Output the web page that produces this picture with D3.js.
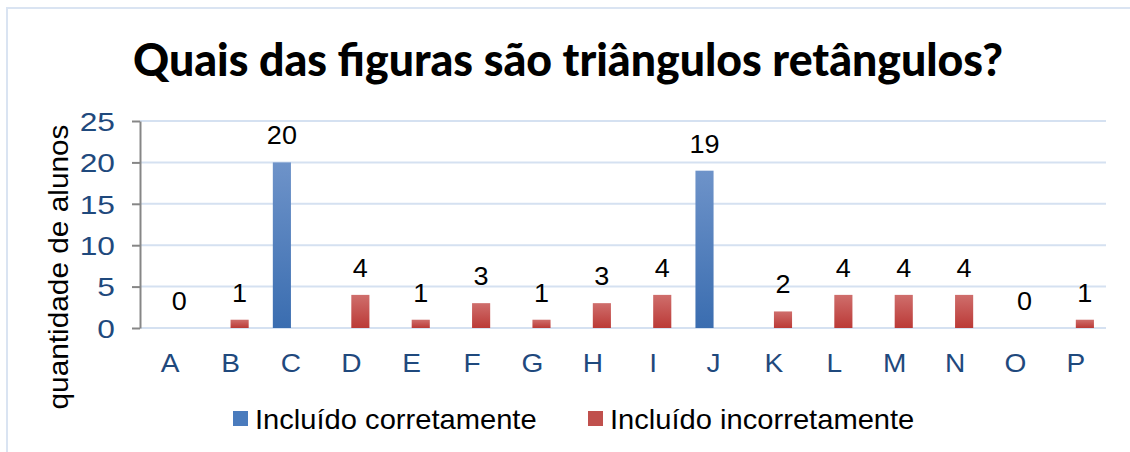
<!DOCTYPE html>
<html><head><meta charset="utf-8">
<script src="https://cdn.jsdelivr.net/npm/d3@7"></script>
<style>body{margin:0;background:#fff;overflow:hidden}</style>
</head><body><svg id="c" width="1130" height="452"></svg>
<script>
const categories = ["A","B","C","D","E","F","G","H","I","J","K","L","M","N","O","P"];
const correct =   [null,null,20,null,null,null,null,null,null,19,null,null,null,null,null,null];
const incorrect = [0,1,null,4,1,3,1,3,4,null,2,4,4,4,0,1];
const seriesNames = ["Incluído corretamente","Incluído incorretamente"];
const yTicks = [0,5,10,15,20,25];
const titleText = "Quais das figuras são triângulos retângulos?";
const yTitleText = "quantidade de alunos";

const svg = d3.select("#c");
const W = 1130, H = 452;
const plot = {left:140, right:1106, top:121, bottom:328};
const FONT = "'Liberation Sans', Arial, sans-serif";

function stretch(sel, k){
  sel.each(function(){
    const w = this.getComputedTextLength();
    d3.select(this).attr("textLength", w*k).attr("lengthAdjust","spacingAndGlyphs");
  });
}

// gradients
const defs = svg.append("defs");
const grads = [["gBlue","#6e93c9","#3a6db0"],["gRed","#cf6e6c","#bb3a37"]];
grads.forEach(([id,c1,c2])=>{
  const g = defs.append("linearGradient").attr("id",id).attr("x1",0).attr("y1",0).attr("x2",0).attr("y2",1);
  g.append("stop").attr("offset","0%").attr("stop-color",c1);
  g.append("stop").attr("offset","100%").attr("stop-color",c2);
});
const fills = ["url(#gBlue)","url(#gRed)"];
const legendFills = ["#4a7bbd","#c0504d"];

// chart border
svg.append("rect").attr("x",7).attr("y",8).attr("width",W+20).attr("height",H+20)
  .attr("fill","none").attr("stroke","#dae4f2").attr("stroke-width",2);

// title
svg.append("text").attr("x",568).attr("y",76).attr("text-anchor","middle")
  .attr("font-family","Lato, 'Open Sans', sans-serif").attr("font-weight",900)
  .attr("font-size",46).attr("fill","#000")
  .attr("textLength",870).attr("lengthAdjust","spacingAndGlyphs")
  .text(titleText);

const x = d3.scaleBand().domain(categories).range([plot.left, plot.right]).padding(0);
const bw = x.bandwidth();
const x1 = d3.scaleBand().domain([0,1]).range([bw/2 - bw*0.3, bw/2 + bw*0.3]).padding(0);
const y = d3.scaleLinear().domain([0,25]).range([plot.bottom, plot.top]);

// gridlines
svg.append("g").selectAll("line").data(yTicks).join("line")
  .attr("x1",plot.left).attr("x2",plot.right)
  .attr("y1",d=>y(d)).attr("y2",d=>y(d))
  .attr("stroke","#d5e1f1").attr("stroke-width",2);

// y axis
const yAxis = svg.append("g").attr("transform",`translate(${plot.left},0)`)
  .call(d3.axisLeft(y).tickValues(yTicks).tickSize(8).tickPadding(17).tickSizeOuter(0));
yAxis.select(".domain").attr("stroke","#868686").attr("stroke-width",2);
yAxis.selectAll(".tick line").attr("stroke","#868686").attr("stroke-width",2);
yAxis.selectAll(".tick text").attr("font-family",FONT)
  .attr("font-size",26).attr("fill","#1f497d").attr("dy","0.36em");
stretch(yAxis.selectAll(".tick text"), 1.22);

// x axis labels
const xAxis = svg.append("g").attr("transform",`translate(0,${plot.bottom})`)
  .call(d3.axisBottom(x).tickSize(0).tickPadding(26));
xAxis.select(".domain").remove();
xAxis.selectAll(".tick text").attr("font-family",FONT)
  .attr("font-size",26).attr("fill","#1f497d");
stretch(xAxis.selectAll(".tick text"), 1.08);

// bars
const series = [correct, incorrect];
const rows = [];
series.forEach((arr,si)=>arr.forEach((v,i)=>{ if(v!==null) rows.push({cat:categories[i], s:si, v}); }));
svg.append("g").selectAll("rect").data(rows).join("rect")
  .attr("x",d=>x(d.cat)+x1(d.s)).attr("width",x1.bandwidth())
  .attr("y",d=>y(d.v)).attr("height",d=>y(0)-y(d.v))
  .attr("fill",d=>fills[d.s]);

// data labels
const dl = svg.append("g").selectAll("text").data(rows).join("text")
  .attr("x",d=>x(d.cat)+x1(d.s)+x1.bandwidth()/2)
  .attr("y",d=>y(d.v)-18)
  .attr("text-anchor","middle")
  .attr("font-family",FONT).attr("font-size",25).attr("fill","#000")
  .text(d=>d.v);
stretch(dl, 1.08);

// y title
svg.append("text").attr("transform","translate(68,267) rotate(-90)")
  .attr("text-anchor","middle")
  .attr("font-family",FONT).attr("font-size",28).attr("fill","#000")
  .attr("textLength",285).attr("lengthAdjust","spacingAndGlyphs")
  .text(yTitleText);

// legend
const legX = [233, 588];
const lg = svg.append("g").selectAll("g").data(seriesNames).join("g")
  .attr("transform",(d,i)=>`translate(${legX[i]},0)`);
lg.append("rect").attr("x",0).attr("y",411).attr("width",15).attr("height",15).attr("fill",(d,i)=>legendFills[i]);
const lt = lg.append("text").attr("x",22).attr("y",429)
  .attr("font-family",FONT).attr("font-size",28).attr("fill","#000")
  .text(d=>d);
stretch(lt, 1.04);
</script>
</body></html>
